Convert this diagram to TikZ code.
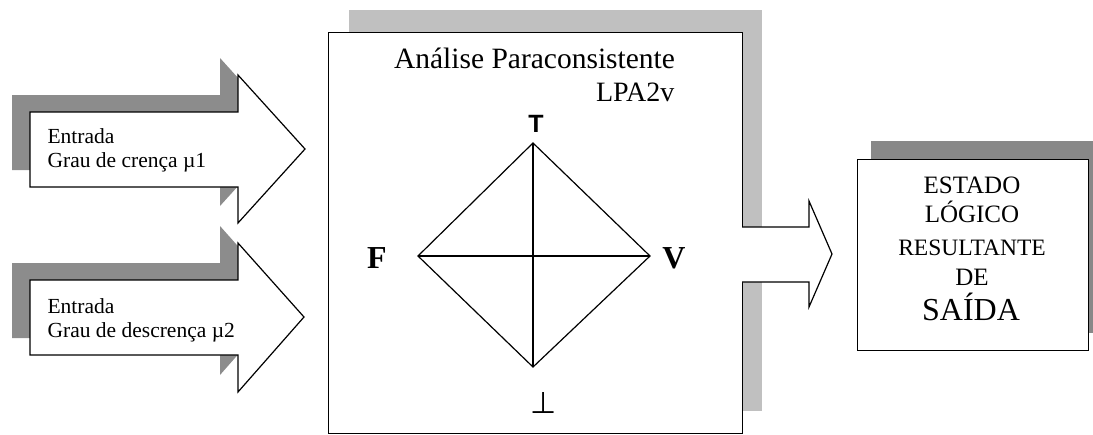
\documentclass[tikz,border=0pt]{standalone}
\usepackage{fontspec}
\setmainfont{Liberation Serif}
\newfontfamily\lsans{Liberation Sans}
\newfontfamily\dvsans{DejaVu Sans}
\definecolor{mainshadow}{RGB}{192,192,192}
\definecolor{arrowshadow}{RGB}{140,140,140}
\definecolor{outshadow}{RGB}{136,136,136}
\begin{document}
\begin{tikzpicture}[x=1pt,y=-1pt,line width=1.2pt,
  txt/.style={inner sep=0pt,anchor=base},
  txtw/.style={inner sep=0pt,anchor=base west},
  boxstyle/.style={draw,fill=white,inner sep=0pt,anchor=north west},
  arrowbody/.style={draw,fill=white,line join=miter}]
\useasboundingbox (0,0) rectangle (1093,434);
% ---- main box with shadow
\fill[mainshadow] (349,10) rectangle (762,411);
\node[boxstyle,minimum width=414pt,minimum height=400.5pt] (main) at (328,32) {};
% ---- input arrow 1
\fill[arrowshadow] (12,95) -- (220,95) -- (220,58) -- (287,132) -- (220,206) -- (220,170) -- (12,170) -- cycle;
\draw[arrowbody] (30,112) -- (238,112) -- (238,75) -- (305,149) -- (238,223) -- (238,187) -- (30,187) -- cycle;
\coordinate (in1) at (305,149);
% ---- input arrow 2
\fill[arrowshadow] (12,263) -- (220,263) -- (220,226) -- (286,300) -- (220,375) -- (220,338) -- (12,338) -- cycle;
\draw[arrowbody] (30,280) -- (238,280) -- (238,243) -- (304,317) -- (238,392) -- (238,355) -- (30,355) -- cycle;
\coordinate (in2) at (304,317);
% ---- output box with shadow
\fill[outshadow] (871,141) rectangle (1093,333);
\node[boxstyle,minimum width=231pt,minimum height=191pt] (out) at (857,159) {};
% ---- output arrow
\draw[arrowbody] (742,227) -- (809,227) -- (809,201) -- (832,254) -- (809,307) -- (809,282) -- (742,282);
% ---- texts of inputs
\node[txtw,font=\fontsize{21.5}{24}\selectfont] (e1) at (47,143) {Entrada};
\node[txtw,font=\fontsize{21.5}{24}\selectfont] (g1) at (47,167) {Grau de crença µ1};
\node[txtw,font=\fontsize{21.5}{24}\selectfont] (e2) at (47,313) {Entrada};
\node[txtw,font=\fontsize{21.5}{24}\selectfont] (g2) at (47,337) {Grau de descrença µ2};
% ---- title
\node[txt,font=\fontsize{29.5}{30}\selectfont] (title) at (534.5,68) {Análise Paraconsistente};
\node[inner sep=0pt,anchor=base east,font=\fontsize{28}{28}\selectfont] (lpa) at (675,101) {LPA2v};
% ---- lattice
\coordinate (top) at (533,143);
\coordinate (lft) at (418,256);
\coordinate (rgt) at (650,256);
\coordinate (bot) at (533,367);
\draw (top) -- (rgt) -- (bot) -- (lft) -- cycle;
\draw (top) -- (bot);
\draw (lft) -- (rgt);
\node[txt,font=\lsans\bfseries\fontsize{25}{25}\selectfont] (tlab) at (536,132) {T};
\node[txt,font=\bfseries\fontsize{32}{32}\selectfont] (flab) at (377,268) {F};
\node[txt,font=\bfseries\fontsize{32}{32}\selectfont] (vlab) at (674,268) {V};
\node[txt,font=\dvsans\fontsize{30}{30}\selectfont] (blab) at (544,413) {⊥};
% ---- output texts
\node[txt,font=\fontsize{25}{25}\selectfont] (o1) at (972,193) {ESTADO};
\node[txt,font=\fontsize{25}{25}\selectfont] (o2) at (972,222) {LÓGICO};
\node[txt,font=\fontsize{23.5}{25}\selectfont] (o3) at (972,255) {RESULTANTE};
\node[txt,font=\fontsize{25}{25}\selectfont] (o4) at (972,285) {DE};
\node[txt,font=\fontsize{32}{32}\selectfont] (o5) at (971,320) {SAÍDA};
\end{tikzpicture}
\end{document}
